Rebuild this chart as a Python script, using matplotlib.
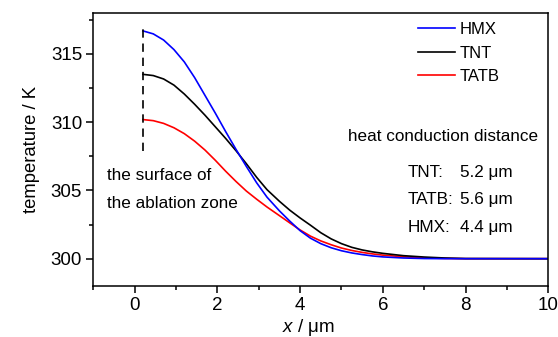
import matplotlib
matplotlib.use("Agg")
import matplotlib.pyplot as plt
from matplotlib.ticker import MultipleLocator

# temperature profiles (x in um, T in K)
x_pts = [0.2, 0.45, 0.7, 0.95, 1.2, 1.45, 1.7, 1.95, 2.2, 2.45, 2.7, 2.95,
         3.2, 3.5, 3.75, 4.0, 4.25, 4.5, 4.75, 5.0, 5.25, 5.5, 5.75, 6.0,
         6.5, 7.0, 7.5, 8.0, 10.0]
t_hmx = [316.67, 316.45, 316.0, 315.3, 314.4, 313.25, 311.95, 310.65, 309.3,
         308.0, 306.75, 305.55, 304.5, 303.5, 302.75, 302.05, 301.5, 301.1,
         300.8, 300.58, 300.42, 300.3, 300.2, 300.13, 300.05, 300.01, 300.0,
         300.0, 300.0]
t_tnt = [313.49, 313.4, 313.15, 312.7, 312.05, 311.3, 310.5, 309.65, 308.8,
         307.9, 306.95, 305.95, 305.05, 304.2, 303.55, 302.98, 302.45, 301.9,
         301.45, 301.1, 300.83, 300.64, 300.5, 300.39, 300.22, 300.12, 300.05,
         300.01, 300.0]
t_tatb = [310.18, 310.1, 309.9, 309.58, 309.15, 308.6, 307.95, 307.2, 306.4,
          305.65, 304.95, 304.35, 303.78, 303.15, 302.62, 302.1, 301.65,
          301.3, 301.02, 300.78, 300.6, 300.46, 300.35, 300.26, 300.14,
          300.06, 300.02, 300.0, 300.0]

surface_x = 0.2
surface_span = (307.9, 317.2)
dist_names = ["TNT:", "TATB:", "HMX:"]
dist_vals = ["5.2 μm", "5.6 μm", "4.4 μm"]

plt.rcParams["font.family"] = ["Liberation Sans", "DejaVu Sans"]
plt.rcParams["mathtext.fontset"] = "custom"
plt.rcParams["mathtext.it"] = "Liberation Sans:italic"
plt.rcParams["mathtext.rm"] = "Liberation Sans"

fig = plt.figure(figsize=(5.58, 3.37), dpi=100)
ax = fig.add_axes([0.1672, 0.1513, 0.8154, 0.811])

l_tatb, = ax.plot(x_pts, t_tatb, color="#ff0000", lw=1.2, label="TATB")
l_tnt, = ax.plot(x_pts, t_tnt, color="black", lw=1.2, label="TNT")
l_hmx, = ax.plot(x_pts, t_hmx, color="#0000ff", lw=1.2, label="HMX")
ax.plot([surface_x, surface_x], surface_span, color="black", lw=1.2,
        ls=(0, (5, 3.5)))

ax.set_xlim(-1, 10)
ax.set_ylim(298, 318)
ax.xaxis.set_major_locator(MultipleLocator(2))
ax.xaxis.set_minor_locator(MultipleLocator(1))
ax.yaxis.set_major_locator(MultipleLocator(5))
ax.yaxis.set_minor_locator(MultipleLocator(2.5))
ax.tick_params(which="both", direction="out", top=False, right=False,
               width=1.1, labelsize=13.5, pad=3)
ax.tick_params(which="major", length=5)
ax.tick_params(which="minor", length=3)
for s in ax.spines.values():
    s.set_linewidth(1.1)

ax.set_xlabel(r"$x$ / μm", fontsize=13.5)
ax.xaxis.set_label_coords(0.474, -0.112)
ax.set_ylabel("temperature / K", fontsize=13.3, labelpad=8)

ax.legend(handles=[l_hmx, l_tnt, l_tatb], frameon=False, fontsize=12,
          loc="upper left", bbox_to_anchor=(0.7136, 0.965), handlelength=2.2,
          handletextpad=0.3, labelspacing=0.5, borderpad=0,
          borderaxespad=0)

ax.text(-0.68, 306.07, "the surface of", fontsize=12.3, va="center")
ax.text(-0.68, 304.02, "the ablation zone", fontsize=12.3, va="center")

ax.text(5.15, 308.93, "heat conduction distance", fontsize=12.3, va="center")
for name, val, y in zip(dist_names, dist_vals, [306.29, 304.3, 302.25]):
    ax.text(6.6, y, name, fontsize=12.3, va="center")
    ax.text(7.86, y, val, fontsize=12.3, va="center")

fig.savefig("out.png", dpi=100)
